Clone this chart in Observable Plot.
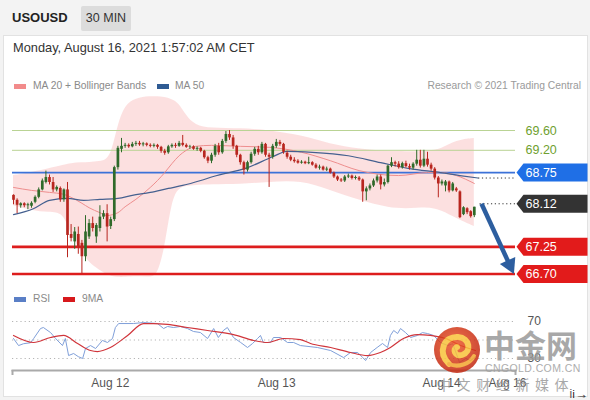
<!DOCTYPE html>
<html><head><meta charset="utf-8">
<script src="https://cdn.jsdelivr.net/npm/d3@7"></script>
<script src="https://cdn.jsdelivr.net/npm/@observablehq/plot@0.6"></script>
<style>
body{margin:0;width:590px;height:400px;background:#f3f3f3;font-family:"Liberation Sans",Arial,sans-serif;position:relative;overflow:hidden}
.a{position:absolute;white-space:nowrap}
#panel{left:3px;top:35px;width:583px;height:360px;background:#fff;border:1px solid #e2e2e2}
#sym{left:12px;top:10px;font-size:13px;font-weight:bold;color:#222}
#tf{left:81px;top:6px;width:50px;height:25px;line-height:25px;text-align:center;background:#dcdcdc;font-size:12.5px;color:#333;border-radius:2px}
#date{left:13px;top:40px;font-size:12.8px;color:#333}
.lg{font-size:10.3px;color:#8a8a8a}
.sw{width:12px;height:5px}
#main{left:0;top:80px}
#rsi{left:0;top:300px}
#wm{left:0;top:0;width:590px;height:400px;pointer-events:none;opacity:.85}
</style></head><body>
<div id="panel" class="a"></div>
<div id="sym" class="a">USOUSD</div>
<div id="tf" class="a">30 MIN</div>
<div id="date" class="a">Monday, August 16, 2021 1:57:02 AM CET</div>
<div class="a sw" style="left:14px;top:84px;background:#f28b8b"></div>
<div class="a lg" style="left:33px;top:80px">MA 20 + Bollinger Bands</div>
<div class="a sw" style="left:157px;top:84px;background:#2f5b93"></div>
<div class="a lg" style="left:175px;top:80px">MA 50</div>
<div class="a lg" style="right:9px;top:80px;color:#9a9a9a">Research © 2021 Trading Central</div>
<div class="a sw" style="left:14px;top:297px;background:#5a7fc6"></div>
<div class="a lg" style="left:33px;top:293px">RSI</div>
<div class="a sw" style="left:63px;top:297px;background:#d7191c"></div>
<div class="a lg" style="left:82px;top:293px">9MA</div>
<div id="main" class="a"></div>
<div id="rsi" class="a"></div>
<div id="wm" class="a">
  <svg width="590" height="400" style="position:absolute;left:0;top:0">
    <defs><radialGradient id="lg1" cx="45%" cy="40%" r="65%"><stop offset="0" stop-color="#ee5a2a"/><stop offset="1" stop-color="#bf2410"/></radialGradient></defs>
    <circle cx="457" cy="350" r="23" fill="url(#lg1)"/>
    <path d="M449 364 C437 352 444 336 458 337 C470 338 472 352 462 355 C455 357 452 349 457 347" fill="none" stroke="#f8c23a" stroke-width="6" stroke-linecap="round"/>
    <path d="M449 364 C458 368 470 364 474 356" fill="none" stroke="#f3a52e" stroke-width="4" stroke-linecap="round"/>
  </svg>
  <div class="a" style="left:484px;top:326px;font-size:31px;font-weight:bold;color:#9a9a9a;font-family:'Noto Sans CJK SC';line-height:36px">中金网</div>
  <div class="a" style="left:485px;top:362px;font-size:10.5px;color:#a0a0a0;letter-spacing:0.4px">CNGOLD.COM.CN</div>
  <div class="a" style="left:437px;top:374px;font-size:14px;color:#9a9a9a;letter-spacing:5.6px;font-family:'Noto Sans CJK SC'">中文财经新媒体</div>
</div>
<script>
// ---- candles (30 min, oldest first) ----
const open = [68.29,68.19,68.08,68.12,68.08,68.07,68.15,68.25,68.40,68.55,68.65,68.55,68.40,68.43,68.20,68.40,67.50,67.35,67.50,67.32,
67.05,67.45,67.72,67.45,67.62,67.85,67.92,67.66,67.80,68.85,69.22,69.28,69.30,69.27,69.32,69.34,69.31,69.33,69.30,69.28,
69.30,69.26,69.18,69.15,69.27,69.30,69.28,69.34,69.30,69.26,69.27,69.22,69.24,69.18,69.05,68.98,69.10,69.28,69.15,69.38,
69.52,69.45,69.28,69.10,68.95,68.80,68.95,69.12,69.22,69.15,69.32,69.10,69.06,69.28,69.36,69.32,69.14,69.06,69.00,68.98,
68.94,68.96,68.93,68.95,68.90,68.84,68.86,68.80,68.82,68.74,68.66,68.60,68.58,68.66,68.68,68.63,68.64,68.60,68.36,68.42,
68.48,68.58,68.66,68.50,68.55,68.88,68.95,68.92,68.85,68.93,68.87,68.84,68.92,69.00,68.88,69.02,68.90,68.82,68.64,68.52,
68.48,68.56,68.38,68.42,68.36,67.90,68.02,67.96,67.88];
const high = [68.30,68.22,68.14,68.14,68.13,68.16,68.28,68.44,68.62,68.78,68.70,68.65,68.48,68.46,68.42,68.55,67.70,67.64,67.65,67.38,
67.88,67.80,67.85,67.72,68.08,67.98,68.10,67.85,68.88,69.28,69.44,69.34,69.33,69.36,69.38,69.38,69.36,69.35,69.33,69.33,
69.32,69.28,69.22,69.30,69.33,69.34,69.38,69.50,69.33,69.30,69.29,69.27,69.26,69.20,69.08,69.14,69.32,69.34,69.42,69.58,
69.60,69.50,69.30,69.12,68.98,68.98,69.16,69.26,69.28,69.36,69.34,69.14,69.32,69.42,69.40,69.34,69.18,69.10,69.05,69.01,
68.99,68.98,69.06,68.97,68.93,68.90,68.88,68.86,68.84,68.76,68.68,68.63,68.69,68.72,68.70,68.68,68.67,68.62,68.46,68.52,
68.62,68.70,68.70,68.62,68.90,69.05,68.98,68.97,68.96,68.98,68.92,68.95,69.20,69.20,69.20,69.16,68.94,68.85,68.67,68.60,
68.59,68.58,68.55,68.45,68.38,68.06,68.04,67.98,68.05];
const low = [68.10,67.92,68.03,68.04,68.00,68.03,68.12,68.22,68.38,68.52,68.50,68.35,68.36,68.15,68.15,67.03,67.35,67.20,67.10,66.70,
66.95,67.40,67.55,67.32,67.55,67.80,67.35,67.60,67.76,68.80,69.15,69.24,69.24,69.25,69.28,69.28,69.27,69.27,69.25,69.25,
69.22,69.14,69.10,69.12,69.24,69.24,69.26,69.27,69.24,69.22,69.20,69.18,69.15,69.02,68.93,68.93,69.06,69.10,69.12,69.34,
69.40,69.22,69.05,68.90,68.70,68.76,68.92,69.08,69.10,69.12,69.06,68.45,69.02,69.24,69.28,69.12,69.02,68.97,68.94,68.92,
68.92,68.91,68.91,68.88,68.82,68.80,68.78,68.77,68.72,68.63,68.57,68.55,68.55,68.63,68.60,68.60,68.57,68.15,68.18,68.38,
68.45,68.54,68.40,68.46,68.52,68.85,68.86,68.82,68.82,68.84,68.80,68.80,68.88,68.84,68.85,68.86,68.78,68.60,68.24,68.48,
68.36,68.34,68.36,68.35,67.82,67.88,67.90,67.83,67.84];
const close = [68.19,68.09,68.12,68.08,68.10,68.13,68.25,68.40,68.58,68.65,68.55,68.40,68.45,68.20,68.40,67.48,67.42,67.55,67.25,67.05,
67.55,67.72,67.62,67.68,67.85,67.92,67.65,67.80,68.85,69.24,69.28,69.30,69.27,69.32,69.34,69.31,69.33,69.30,69.28,69.30,
69.26,69.18,69.14,69.27,69.30,69.28,69.34,69.30,69.26,69.27,69.22,69.24,69.18,69.05,68.98,69.10,69.28,69.15,69.38,69.52,
69.45,69.28,69.10,68.95,68.80,68.95,69.12,69.22,69.15,69.32,69.10,69.06,69.28,69.36,69.32,69.16,69.06,69.00,68.97,68.94,
68.96,68.93,68.95,68.90,68.84,68.86,68.80,68.82,68.74,68.66,68.60,68.58,68.66,68.68,68.63,68.65,68.60,68.36,68.42,68.48,
68.58,68.66,68.50,68.55,68.88,68.95,68.92,68.85,68.93,68.87,68.84,68.92,69.00,68.88,69.02,68.90,68.82,68.64,68.52,68.56,
68.56,68.38,68.52,68.38,67.84,68.04,67.94,67.86,68.05];

// ---- MA 20 + Bollinger Bands, MA 50 (read at candle positions) ----
const bandIdx = [0,5,10,14,16,19,21,24,26,27.5,29,31,34,38,40,42,44,46,48,50.5,55,63,71,80,88,96,107,115,119,123,128];
const bbUpper = [68.69,68.75,68.83,68.90,68.93,68.95,68.95,68.97,69.00,69.20,69.70,70.11,70.25,70.29,70.28,70.27,70.23,70.15,69.90,69.70,69.64,69.64,69.60,69.50,69.32,69.22,69.16,69.18,69.22,69.40,69.44];
const bbLower = [68.08,67.98,67.94,67.94,67.48,67.14,66.93,66.77,66.69,66.65,66.63,66.63,66.65,66.63,66.67,67.18,68.19,68.43,68.47,68.49,68.51,68.51,68.55,68.59,68.39,68.19,67.98,68.06,67.98,67.82,67.66];
const ma20 = [68.45,68.39,68.35,68.31,68.25,68.13,68.04,67.94,67.88,67.90,67.94,68.06,68.21,68.45,68.59,68.75,68.93,69.09,69.20,69.28,69.30,69.28,69.26,69.16,68.99,68.79,68.69,68.75,68.75,68.69,68.53];
const ma50Idx = [0,5.5,10,15,19.5,24,29,33,38,43,47,52,55.5,65,72,76,83,93,102,110,118.6,124,129];
const ma50 = [67.90,68.02,68.19,68.23,68.19,68.21,68.23,68.29,68.35,68.43,68.49,68.59,68.67,68.85,69.07,69.18,69.16,69.09,68.95,68.83,68.75,68.69,68.64];

// ---- key levels ----
const levelValues = [69.60, 69.20, 68.75, 68.12, 67.25, 66.70];
const levelLabels = ["69.60", "69.20", "68.75", "68.12", "67.25", "66.70"];
const levelKinds = ["resistance", "resistance", "pivot", "last", "support", "support"];

// ---- RSI and its 9MA ----
const rsiIdx = [0,1.4,2.8,4.7,5.6,7.5,8.3,10.3,11.7,13.6,14.4,15.3,16.7,18,19.2,20,21.4,22.8,24.7,26.1,27.5,28.3,29.2,33.3,36.1,40,41.7,42.8,44.4,46.4,48.3,50,51.9,53.9,55.6,56.9,58.3,59.4,61.1,63.1,65,66.4,67.8,68.6,69.4,71.4,72.2,74.2,76.1,77.8,79.7,84.4,88.1,91.7,93.6,95.6,97,97.8,99.2,101,102.5,103.9,104.7,105.6,106.7,107.5,108.9,110.3,112.2,113.6,115,116.7,118.6,120.6,122,123.9,125.6,127,128.3];
const rsi = [51.6,44,46,47,51.6,62.4,63.5,58,51.6,44,51.6,33.2,35.4,32,30,40.8,44,40.8,49.5,47.3,51.6,63.5,67.8,67.8,68.9,67.8,62.4,64.6,63.5,64.6,62.4,59.2,58.1,51.6,62.4,52.7,60.3,63.5,52.7,47.3,41.9,46.2,51.6,54.9,47.3,47.3,52.7,52.7,47.3,47.3,44,41.9,38.6,31,36.5,36.5,31,27.8,36.5,41.9,46.2,41.9,54.9,60.3,57,62.4,58,52.7,54.9,58,57,54.9,47.3,44,46,25.7,30,27.8,32];
const ma9Idx = [0,5.6,10.3,13.9,17.8,21.4,23.3,26.9,31.7,36.1,38.9,42.8,48.3,53.9,61.1,66.7,70.6,75,79.7,82.5,88.1,93.6,98.3,101.9,104.7,108.3,112.2,115.8,120,124.2,128.3];
const ma9 = [54.9,47.3,52.7,54.9,46.2,38.6,37.5,41.9,54.9,67.8,67.8,66.8,63.5,60.3,55.9,49.5,47.3,51.6,50.5,46.2,41.9,36.5,33.2,36.5,41.9,51.6,55.9,54.9,51.6,44,38.6];
const rsiLevels = [70, 50, 30];
const rsiLabelled = [70, 30];

// ---- time axis ----
const tickIdx = [26.9, 73.1, 118.9, 137.2];
const tickLabels = ["Aug 12", "Aug 13", "Aug 14", "Aug 16"];

// ================= drawing =================
const n = close.length;
const xDomain = [-0.28, 139.44];
const GREEN = "#2f6a2a", RED = "#b8261f";
const candles = close.map((c, i) => ({i, o: open[i], h: high[i], l: low[i], c}));
const band = bandIdx.map((i, k) => ({i, hi: bbUpper[k], lo: bbLower[k], ma: ma20[k]}));
const ma50d = ma50Idx.map((i, k) => ({i, v: ma50[k]}));
const levels = levelValues.map((v, k) => ({v, label: levelLabels[k], kind: levelKinds[k]}));
const lastLevel = levels.find(d => d.kind === "last");
const target = levels[levels.length - 1];
const tagColor = {pivot: "#1f6fe6", last: "#333333", support: "#e21b1b"};
const tagSymbol = {draw(ctx) { ctx.moveTo(0, 0); ctx.lineTo(7, -9); ctx.lineTo(71, -9); ctx.lineTo(71, 9); ctx.lineTo(7, 9); ctx.closePath(); }};
// arrow: shaft stops short of the tip, a filled head finishes it
const arrowFrom = {x: n + 1, y: lastLevel.v}, arrowTo = {x: n + 10, y: target.v};
const shaftEnd = 0.84;
const shaft = [{x1: arrowFrom.x, y1: arrowFrom.y,
  x2: arrowFrom.x + shaftEnd * (arrowTo.x - arrowFrom.x), y2: arrowFrom.y + shaftEnd * (arrowTo.y - arrowFrom.y)}];
const headSymbol = {draw(ctx) { ctx.moveTo(0, 0); ctx.lineTo(-8.5, -15); ctx.lineTo(8.5, -15); ctx.closePath(); }};
const ARROW = "#2d5e9f";
const font = "'Liberation Sans', Arial, sans-serif";

const main = Plot.plot({
  width: 590, height: 210, marginLeft: 12, marginRight: 75, marginTop: 0, marginBottom: 0,
  x: {domain: xDomain, axis: null},
  y: {domain: [66.368, 70.610], axis: null},
  style: {background: "transparent", overflow: "visible", fontFamily: font},
  marks: [
    Plot.areaY(band, {x: "i", y1: "lo", y2: "hi", fill: "#f7b5b5", fillOpacity: 0.42, curve: "basis"}),
    Plot.ruleY(levels.filter(d => d.kind === "resistance"), {y: "v", stroke: "#b9d394", strokeWidth: 1}),
    Plot.ruleY(levels.filter(d => d.kind === "pivot"), {y: "v", stroke: "#3c72d8", strokeWidth: 1.6}),
    Plot.line(band, {x: "i", y: "ma", stroke: "#ee8e8e", strokeWidth: 1, curve: "monotone-x"}),
    Plot.line(ma50d, {x: "i", y: "v", stroke: "#45608f", strokeWidth: 1.2, curve: "monotone-x"}),
    Plot.ruleY(levels.filter(d => d.kind === "support"), {y: "v", stroke: "#dd1d1d", strokeWidth: 2.6}),
    Plot.ruleX(candles, {x: "i", y1: "l", y2: "h", stroke: d => d.c >= d.o ? GREEN : RED, strokeWidth: 1}),
    Plot.ruleX(candles, {x: "i", y1: "o", y2: "c", stroke: d => d.c >= d.o ? GREEN : RED, strokeWidth: 2.7}),
    Plot.ruleY([lastLevel], {y: "v", x1: n + 0.6, x2: xDomain[1], stroke: "#333", strokeWidth: 1, strokeDasharray: "1.2,2.6"}),
    Plot.ruleY([ma50d[ma50d.length - 1]], {y: "v", x1: n + 0.2, x2: xDomain[1], stroke: "#333", strokeWidth: 1, strokeDasharray: "1.2,2.6"}),
    Plot.link(shaft, {x1: "x1", y1: "y1", x2: "x2", y2: "y2", stroke: ARROW, strokeWidth: 4.5, strokeLinecap: "butt"}),
    Plot.dot([arrowTo], {x: "x", y: "y", symbol: headSymbol, r: 5, fill: ARROW, stroke: null, rotate: -25}),
    Plot.dot(levels.filter(d => d.kind !== "resistance"), {y: "v", frameAnchor: "right", dx: 1, symbol: tagSymbol, r: 5, fill: d => tagColor[d.kind], stroke: null}),
    Plot.text(levels, {y: "v", text: "label", frameAnchor: "right", dx: 10, textAnchor: "start", fontSize: 12.5,
      fill: d => d.kind === "resistance" ? "#6f9f30" : "#ffffff"})
  ]
});
document.getElementById("main").append(main);

const rsiPlot = Plot.plot({
  width: 590, height: 100, marginLeft: 12, marginRight: 75, marginTop: 0, marginBottom: 30,
  x: {domain: xDomain},
  y: {domain: [30, 70], range: [58, 21], axis: null},
  style: {background: "transparent", overflow: "visible", fontFamily: font},
  marks: [
    Plot.ruleY(rsiLevels, {stroke: "#b5b5b5", strokeDasharray: "1.2,3"}),
    Plot.line(rsiIdx.map((i, k) => ({i, v: rsi[k]})), {x: "i", y: "v", stroke: "#7f9fd9", strokeWidth: 1}),
    Plot.line(ma9Idx.map((i, k) => ({i, v: ma9[k]})), {x: "i", y: "v", stroke: "#d0353b", strokeWidth: 1.2, curve: "monotone-x"}),
    Plot.text(rsiLabelled, {y: d => d, text: d => String(d), frameAnchor: "right", dx: 12, textAnchor: "start", fill: "#555", fontSize: 12}),
    Plot.frame({anchor: "bottom", stroke: "#aaaaaa", strokeWidth: 2}),
    Plot.axisX({ticks: xDomain, tickSize: 5, tickFormat: () => "", stroke: "#aaaaaa", strokeWidth: 2}),
    Plot.axisX({ticks: tickIdx, tickSize: 0, tickPadding: 8, fontSize: 12, color: "#555",
      tickFormat: d => tickLabels[tickIdx.indexOf(d)]})
  ]
});
document.getElementById("rsi").append(rsiPlot);
</script>
</body></html>
